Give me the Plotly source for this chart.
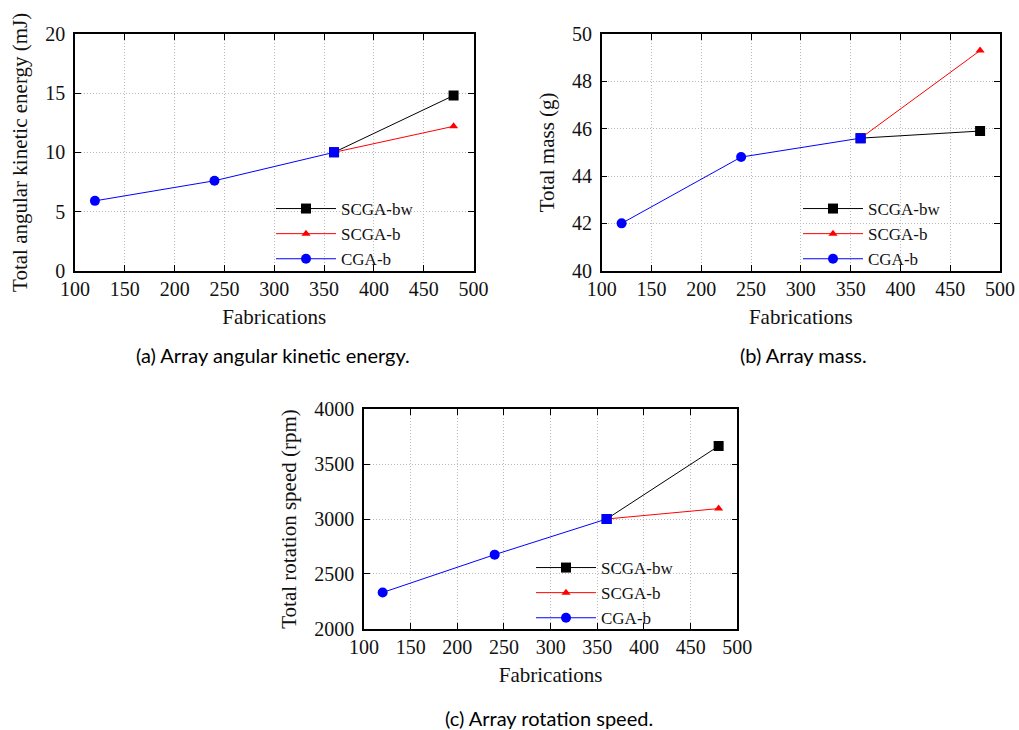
import plotly.graph_objects as go

W, H = 1019, 730

# ---- data ----
fab_cga = [120, 240, 360]
fab_sc = [360, 480]

energy_cga = [5.9, 7.6, 10.0]
energy_scga_bw = [10.0, 14.8]
energy_scga_b = [10.0, 12.2]

mass_cga = [42.0, 44.8, 45.6]
mass_scga_bw = [45.6, 45.9]
mass_scga_b = [45.6, 49.3]

speed_cga = [2330, 2675, 3000]
speed_scga_bw = [3000, 3665]
speed_scga_b = [3000, 3095]

series_names = ["SCGA-bw", "SCGA-b", "CGA-b"]
captions = ["(a) Array angular kinetic energy.", "(b) Array mass.", "(c) Array rotation speed."]
ytitles = ["Total angular kinetic energy (mJ)", "Total mass (g)", "Total rotation speed (rpm)"]

SERIF = "Liberation Serif"
SANS = "Lato"
FS = 20

def px_x(a, b):
    return [a / W, b / W]

def px_y(top, bottom):
    return [1 - bottom / H, 1 - top / H]

def pxx(a):
    return a / W

def pxy(a):
    return 1 - a / H

fig = go.Figure()

panels = [
    dict(xa="x", ya="y", leg="legend", bw=energy_scga_bw, b=energy_scga_b, c=energy_cga),
    dict(xa="x2", ya="y2", leg="legend2", bw=mass_scga_bw, b=mass_scga_b, c=mass_cga),
    dict(xa="x3", ya="y3", leg="legend3", bw=speed_scga_bw, b=speed_scga_b, c=speed_cga),
]

for p in panels:
    fig.add_trace(go.Scatter(x=fab_sc, y=p["bw"], name=series_names[0], mode="lines+markers",
                             line=dict(color="black", width=1),
                             marker=dict(symbol="square", size=10, color="black", opacity=1,
                                         line=dict(width=0)),
                             xaxis=p["xa"], yaxis=p["ya"], legend=p["leg"]))
    fig.add_trace(go.Scatter(x=fab_sc, y=p["b"], name=series_names[1], mode="lines+markers",
                             line=dict(color="red", width=1),
                             marker=dict(symbol="triangle-up", size=8, color="red", opacity=1,
                                         line=dict(width=0)),
                             xaxis=p["xa"], yaxis=p["ya"], legend=p["leg"]))
    fig.add_trace(go.Scatter(x=fab_cga, y=p["c"], name=series_names[2], mode="lines+markers",
                             line=dict(color="blue", width=1),
                             marker=dict(symbol=["circle", "circle", "square"], size=[10, 10, 10],
                                         color="#0000ff", opacity=1, line=dict(width=0)),
                             xaxis=p["xa"], yaxis=p["ya"], legend=p["leg"]))

axis_common = dict(showline=True, linecolor="black", linewidth=1.5, mirror="ticks",
                   ticks="inside", ticklen=6, tickcolor="black", tickwidth=1,
                   showgrid=True, gridcolor="#b8b8b8", griddash="1px,2px", gridwidth=1,
                   zeroline=False, automargin=False,
                   tickfont=dict(family=SERIF, size=FS, color="#111"),
                   title_font=dict(family=SERIF, size=FS + 1, color="#111"))

xaxis_kw = dict(range=[100, 500], dtick=50, tick0=100, title=dict(text="Fabrications", standoff=10), **axis_common)
yextra = dict(ticklabelstandoff=4)

fig.update_layout(
    width=W, height=H, margin=dict(l=0, r=0, t=0, b=0),
    paper_bgcolor="white", plot_bgcolor="white",
    xaxis=dict(domain=px_x(75, 473.5), anchor="y", **xaxis_kw),
    yaxis=dict(domain=px_y(34, 270.7), anchor="x", range=[0, 20], dtick=5,
               title=dict(text=ytitles[0], standoff=12), **yextra, **axis_common),
    xaxis2=dict(domain=px_x(601.7, 1000), anchor="y2", **xaxis_kw),
    yaxis2=dict(domain=px_y(34, 270.7), anchor="x2", range=[40, 50], dtick=2,
                title=dict(text=ytitles[1], standoff=12), **yextra, **axis_common),
    xaxis3=dict(domain=px_x(364, 737.3), anchor="y3", **xaxis_kw),
    yaxis3=dict(domain=px_y(409.3, 628.7), anchor="x3", range=[2000, 4000], dtick=500,
                title=dict(text=ytitles[2], standoff=12), **yextra, **axis_common),
    showlegend=True,
)

leg_common = dict(bgcolor="rgba(0,0,0,0)", borderwidth=0, font=dict(family=SERIF, size=17, color="#111"),
                  itemwidth=60, tracegroupgap=0, xanchor="left", yanchor="top")
fig.update_layout(
    legend=dict(x=pxx(271), y=pxy(191), **leg_common),
    legend2=dict(x=pxx(798), y=pxy(191), **leg_common),
    legend3=dict(x=pxx(531), y=pxy(550), **leg_common),
)

cap_pos = [(273, 355), (803, 355), (549, 718)]
for text, (cx, cy) in zip(captions, cap_pos):
    fig.add_annotation(text=text, x=pxx(cx), y=pxy(cy), xref="paper", yref="paper",
                       showarrow=False, xanchor="center", yanchor="middle",
                       font=dict(family=SANS, size=20, color="black"))

fig.write_html("out.html", config={"displayModeBar": False},
               post_script="document.body.style.margin='0';")
